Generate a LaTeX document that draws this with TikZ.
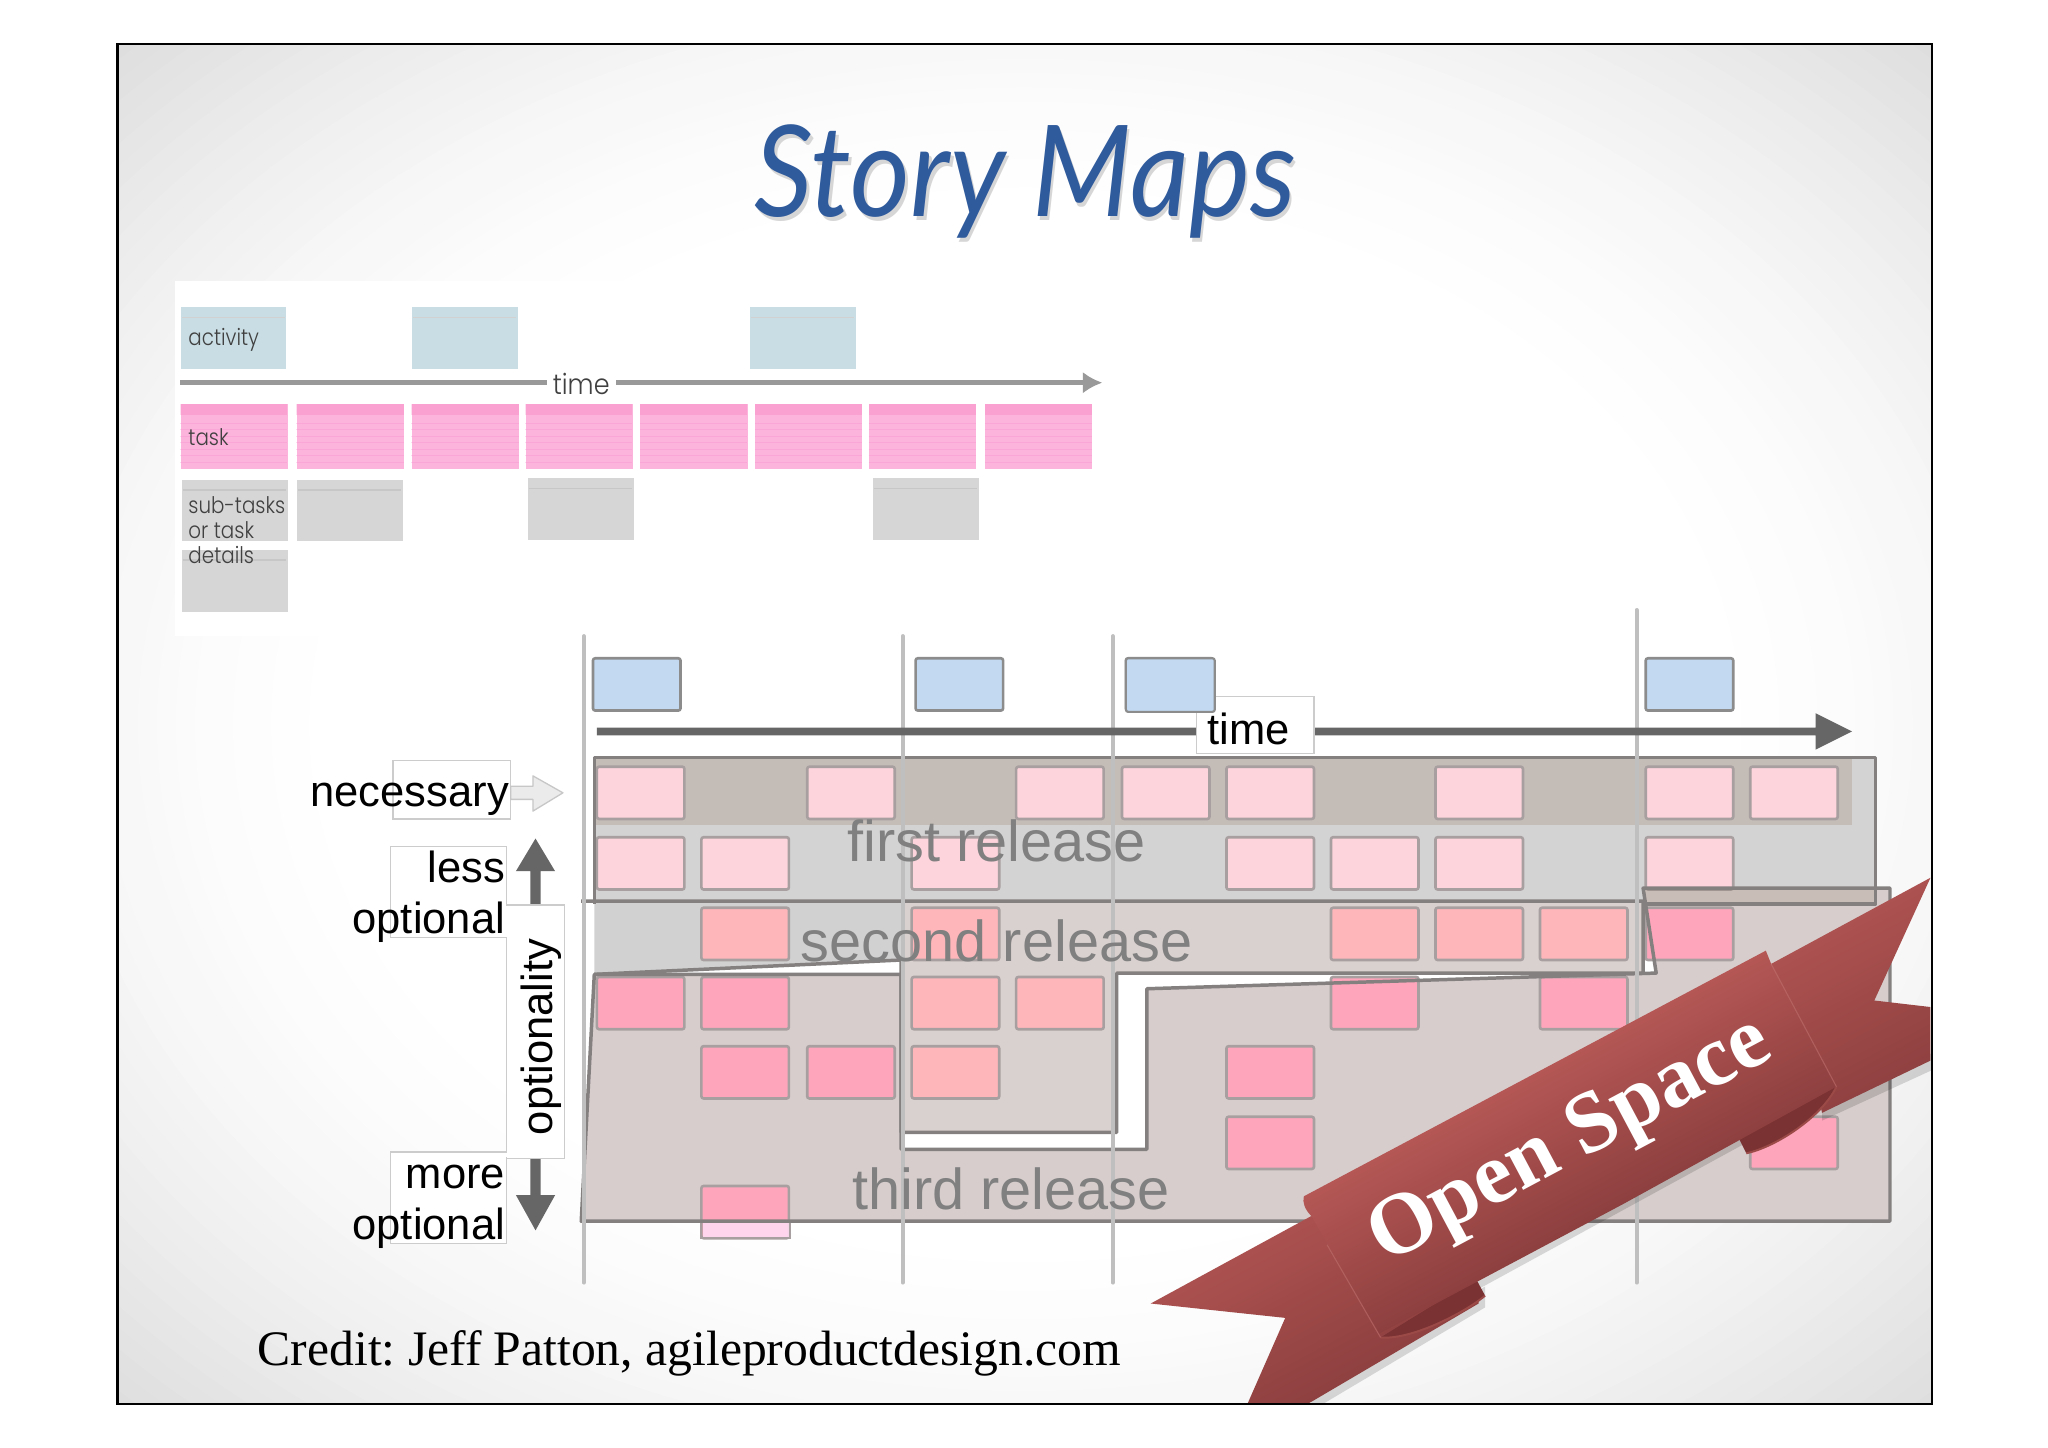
\documentclass[tikz,border=0pt]{standalone}
\usepackage{fontspec}
\setmainfont{Liberation Serif}
\setsansfont{Liberation Sans}
\newfontfamily\geofont{Poppins Light}[BoldFont=Poppins]
\newfontfamily\handfont{Lato}
\usetikzlibrary{arrows.meta,calc}
\definecolor{titleblue}{HTML}{2F5A9C}
\definecolor{rib}{HTML}{B45755}
\definecolor{ribdark}{HTML}{8D3F3F}
\definecolor{ribfold}{HTML}{7A3232}
\definecolor{ribrim}{HTML}{9C4A48}
\definecolor{pinklight}{HTML}{FDD3DC}
\definecolor{pinksalmon}{HTML}{FEB6BA}
\definecolor{pinkstrong}{HTML}{FEA5BB}
\definecolor{boxedge}{HTML}{A8A0A0}
\definecolor{reledge}{HTML}{858080}
\definecolor{blueboxc}{HTML}{C2D9F1}
\definecolor{activityc}{HTML}{C9DEE4}
\definecolor{taskc}{HTML}{FDB4DC}
\definecolor{secondc}{HTML}{D9D1CF}
\definecolor{thirdc}{HTML}{D6CDCC}
\definecolor{firstdark}{HTML}{C4BCB6}
\definecolor{firstlight}{HTML}{D3D3D3}
\tikzset{
 card/.style={draw=boxedge,line width=1.2pt,rounded corners=1pt,minimum width=40.2pt,minimum height=24pt,inner sep=0pt,anchor=north west},
 cardL/.style={card,fill=pinklight},
 cardM/.style={card,fill=pinksalmon},
 cardS/.style={card,fill=pinkstrong},
 cardB/.style={card,draw=black!45,fill=blueboxc},
 vline/.style={draw=black!25,line width=1.8pt,line cap=round},
 rel/.style={draw=reledge,line width=1.6pt,line join=round},
 reltxt/.style={font=\sffamily\fontsize{26.5}{28}\selectfont,text=black!50,inner sep=0pt},
 lab/.style={font=\sffamily\fontsize{20}{22}\selectfont,text=black,inner sep=0pt},
 whitebox/.style={draw=black!20,line width=.6pt,fill=white,inner sep=0pt},
 old/.style={font=\geofont\fontsize{10.5}{11}\selectfont,text=black!75,inner sep=0pt,anchor=west,xscale=.87},
 oldA/.style={fill=activityc,draw=none,minimum width=48.6pt,minimum height=28.2pt,inner sep=0pt,anchor=north west},
 oldG/.style={fill=black!16,draw=none,minimum width=48.6pt,minimum height=28.2pt,inner sep=0pt,anchor=north west},
 oldT/.style={fill=taskc,draw=none,minimum width=49.2pt,minimum height=30pt,inner sep=0pt,anchor=north west},
 graybar/.style={draw=black!40,line width=2.4pt},
 darkarrow/.style={fill=black!60,draw=none},
 ribgrad/.style={top color=rib,bottom color=ribdark,transform canvas={rotate around={28:(1203,875)}}},
}
\begin{document}
\begin{tikzpicture}[x=0.6pt,y=-0.6pt]
\useasboundingbox (0,0) rectangle (1568,1108);
\fill[white] (0,0) rectangle (1568,1108);
% slide background
\begin{scope}
\clip (90,34) rectangle (1479,1075);
\fill[black!13] (90,34) rectangle (1479,1075);
\foreach \i in {0,...,30}{
 \pgfmathsetmacro{\rr}{1.42-.021*\i}
 \pgfmathsetmacro{\pct}{13*((\rr-.76)/.66)^1.6}
 \fill[black!\pct] (785,555) ellipse ({694*\rr} and {521*\rr});
}
\end{scope}
% upper picture
\fill[white] (134,215) rectangle (848,487);
% ---- upper diagram
\foreach \n/\x in {a/138,b/315,c/574}{
 \node[oldA] (act\n) at (\x,235) {};
 \draw[black!18,line width=.8pt] (\x+1,243) -- (\x+80,243);
}
\foreach \n/\x in {a/138,b/227,c/315,d/402,e/490,f/578,g/665,h/754}{
 \node[oldT] (task\n) at (\x,309) {};
 \fill[magenta!70!pink,opacity=.15] (\x,309) rectangle (\x+82,318);
 \foreach \yy in {324,329,...,354}{
  \draw[magenta!50,opacity=.25,line width=.5pt] (\x,\yy) -- (\x+82,\yy);
 }
}
\foreach \n/\x/\y in {a/139/367,b/227/367,c/404/366,d/668/366,e/139/421}{
 \node[oldG] (sub\n) at (\x,\y) {};
 \draw[black!22,line width=.8pt] (\x+1,\y+8) -- (\x+80,\y+8);
}
\coordinate (oldstart) at (138,293);
\coordinate (oldend) at (844,293);
\draw[graybar,-{Latex[length=9pt,width=10pt]}] (oldstart) -- (oldend);
\node[fill=white,minimum width=31.8pt,minimum height=14pt,inner sep=0pt] (oldgap) at (445,294) {};
\node[font=\geofont\fontsize{13}{14}\selectfont,text=black!75,inner sep=0pt,xscale=.9] (oldtime) at (445,294) {time};
\node[old] (tactivity) at (144,260) {activity};
\node[old] (ttask) at (144,335) {task};
\node[old] (tsub1) at (144,387) {sub-tasks};
\node[old] (tsub2) at (144,406) {or task};
\node[old] (tsub3) at (144,425) {details};
% ---- lower diagram
\foreach \n/\x in {a/453,b/700,c/861,d/1259}{
 \node[cardB] (blue\n) at (\x,503) {};
}
% release regions
\fill[firstlight] (455,580) rectangle (1436,692);
\fill[firstdark] (455,580) rectangle (1418,632);
\fill[black!18] (455,690) -- (690,690) -- (690,735) -- (455,746) -- cycle;
\fill[secondc] (690,690) -- (1258,690) -- (1258,745) -- (855,745) -- (855,867) -- (690,867) -- cycle;
\fill[thirdc] (445,935) -- (455,746) -- (690,746) -- (690,880) -- (878,880) -- (878,757) -- (1268,745) -- (1258,680) -- (1447,680) -- (1447,935) -- cycle;
% cards
\foreach \n/\x in {a/456,b/617,c/777,d/858,e/938,f/1098,g/1259,h/1339}{\node[cardL] (r1\n) at (\x,586) {};}
\foreach \n/\x in {a/456,b/536,c/697,d/938,e/1018,f/1098,g/1259}{\node[cardL] (r2\n) at (\x,640) {};}
\foreach \n/\x in {a/536,b/697,c/1018,d/1098,e/1178}{\node[cardM] (r3\n) at (\x,694) {};}
\node[cardS] (r3f) at (1259,694) {};
\foreach \n/\x in {a/456,b/536,e/1018,f/1178}{\node[cardS] (r4\n) at (\x,747) {};}
\foreach \n/\x in {c/697,d/777}{\node[cardM] (r4\n) at (\x,747) {};}
\foreach \n/\x in {a/536,b/617,d/938}{\node[cardS] (r5\n) at (\x,800) {};}
\node[cardM] (r5c) at (697,800) {};
\foreach \n/\x in {a/938,b/1339}{\node[cardS] (r6\n) at (\x,854) {};}
\node[cardS] (r7a) at (536,907) {};
\fill[pink!70!magenta!30!white,opacity=.9] (538,936) rectangle (604,947);
\draw[boxedge,line width=1pt] (537,936) -- (537,948) -- (605,948) -- (605,936);
% overlap of first release on third
\fill[black!40!brown,opacity=.12] (1258,680) rectangle (1436,692);
% release outlines
\draw[rel] (455,692) -- (455,580) -- (1436,580) -- (1436,692) -- (1258,692);
\draw[rel] (445,690) -- (1258,690) -- (1258,745) -- (855,745) -- (855,867) -- (690,867) -- (690,735) -- (455,746);
\draw[rel] (445,935) -- (455,746) -- (690,746) -- (690,880) -- (878,880) -- (878,757) -- (1268,745) -- (1258,680) -- (1447,680) -- (1447,935) -- cycle;
% vertical lines
\coordinate (v1t) at (447,487); \coordinate (v1b) at (447,982);
\coordinate (v2t) at (691,487); \coordinate (v2b) at (691,982);
\coordinate (v3t) at (852,487); \coordinate (v3b) at (852,982);
\coordinate (v4t) at (1253,467); \coordinate (v4b) at (1253,982);
\draw[vline] (v1t) -- (v1b);
\draw[vline] (v2t) -- (v2b);
\draw[vline] (v3t) -- (v3b);
\draw[vline] (v4t) -- (v4b);
% time arrow
\coordinate (tstart) at (457,560);
\coordinate (tend) at (1418,560);
\fill[black!60] (tstart) ++(0,-3) -- (1390,557) -- (1390,546) -- (tend) -- (1390,574) -- (1390,563) -- (457,563) -- cycle;
\draw[whitebox] (916,533) rectangle (1006,577);
\draw[black!45,line width=1pt,fill=blueboxc,rounded corners=1pt] (862,504) rectangle (930,545);
\fill[white] (917,546) rectangle (1005,576);
\node[lab] (ttime) at (956,558) {time};
% release captions
\node[reltxt] (tfirst) at (763,644) {first release};
\node[reltxt] (tsecond) at (763,720) {second release};
\node[reltxt] (tthird) at (774,910) {third release};
% optionality arrows
\coordinate (otop) at (410,642);
\coordinate (obot) at (410,942);
\fill[darkarrow] (otop) -- (425,667) -- (414,667) -- (414,700) -- (406,700) -- (406,667) -- (395,667) -- cycle;
\fill[darkarrow] (obot) -- (425,915) -- (414,915) -- (414,880) -- (406,880) -- (406,915) -- (395,915) -- cycle;
% left labels
\draw[whitebox] (301,582) rectangle (391,627);
\draw[whitebox] (299,648) rectangle (388,718);
\draw[whitebox] (299,882) rectangle (388,952);
\draw[whitebox] (388,693) rectangle (432,887);
\fill[white] (300,700) rectangle (387,717);
\fill[white] (387,694) rectangle (389,717);
\fill[white] (387,883) rectangle (389,886);
\node[lab,anchor=east] (tnec) at (390,612) {necessary};
\node[lab,anchor=east] (tless) at (387,664) {less};
\node[lab,anchor=east] (top1) at (387,706) {optional};
\node[lab,anchor=east] (tmore) at (387,901) {more};
\node[lab,anchor=east] (top2) at (387,940) {optional};
\node[lab,rotate=90] (topt) at (414,794) {optionality};
% pale arrow
\draw[draw=black!22,fill=black!8!white,line width=.6pt,line join=round] (391,602) -- (408,602) -- (408,594) -- (431,607) -- (408,621) -- (408,612) -- (391,612) -- cycle;
% ribbon
\begin{scope}
\clip (90,34) rectangle (1479,1075);
% shadow
\fill[black,opacity=.14] (1006,1079) -- (1137,1001) -- (1137,985) -- (1001,1066) -- cycle;
\fill[black,opacity=.14] (1130,988) -- (1335,876) -- (1335,862) -- (1130,974) -- cycle;
\fill[black,opacity=.14] (1395,858) -- (1482,818) -- (1482,805) -- (1395,845) -- cycle;
% tails
\begin{scope}
\clip (881,998) -- (1004,931) -- (1040,960) -- (1132,985) -- (1132,998) -- (1001,1075) -- (955,1075) -- (984,1009) -- cycle;
\shade[ribgrad] (800,790) rectangle (1250,960);
\end{scope}
\begin{scope}
\clip (1356,738) -- (1478,672) -- (1435,766) -- (1478,771) -- (1478,812) -- (1395,852) -- (1380,790) -- cycle;
\shade[ribgrad] (1250,790) rectangle (1600,960);
\end{scope}
% folds
\fill[ribfold] (1057,1024) -- (1130,979) -- (1137,992) .. controls (1120,1006) and (1080,1026) .. (1057,1024) -- cycle;
\draw[ribrim,line width=.9pt] (1057,1024) .. controls (1080,1026) and (1120,1006) .. (1137,992);
\fill[ribfold] (1406,832) -- (1330,869) -- (1337,883) .. controls (1360,878) and (1395,855) .. (1406,832) -- cycle;
\draw[ribrim,line width=.9pt] (1337,883) .. controls (1360,878) and (1395,855) .. (1406,832);
% band
\begin{scope}
\clip (1057,1024) -- (1004,931) .. controls (994,921) and (996,910) .. (1012,902) -- (1338,724) .. controls (1345,720) and (1350,722) .. (1352,728) -- (1356,738) -- (1406,832) -- cycle;
\shade[ribgrad] (900,815) rectangle (1500,935);
\end{scope}
\draw[rib!85!white,opacity=.6,line width=.5pt] (1016,953) -- (1057,1024) (1356,738) -- (1406,832);
\node[rotate=28,text=white,font=\bfseries\fontsize{40}{42}\selectfont,inner sep=0pt] (tribbon) at (1203,875) {Open Space};
\end{scope}
% frame
\draw[black,line width=1pt] (90,34) rectangle (1479,1075);
% credit
\node[anchor=west,inner sep=0pt,font=\fontsize{22.8}{24}\selectfont\frenchspacing] (tcredit) at (197,1036) {Credit: Jeff Patton, agileproductdesign.com};
% title
\node[anchor=base,text=black!16,font=\handfont\itshape\fontsize{53}{55}\selectfont,inner sep=0pt,yscale=1.1] (tshadow) at (787,169) {Story Maps};
\node[anchor=base,text=titleblue,font=\handfont\itshape\fontsize{53}{55}\selectfont,inner sep=0pt,yscale=1.1] (ttitle) at (785,166) {Story Maps};
\end{tikzpicture}
\end{document}
